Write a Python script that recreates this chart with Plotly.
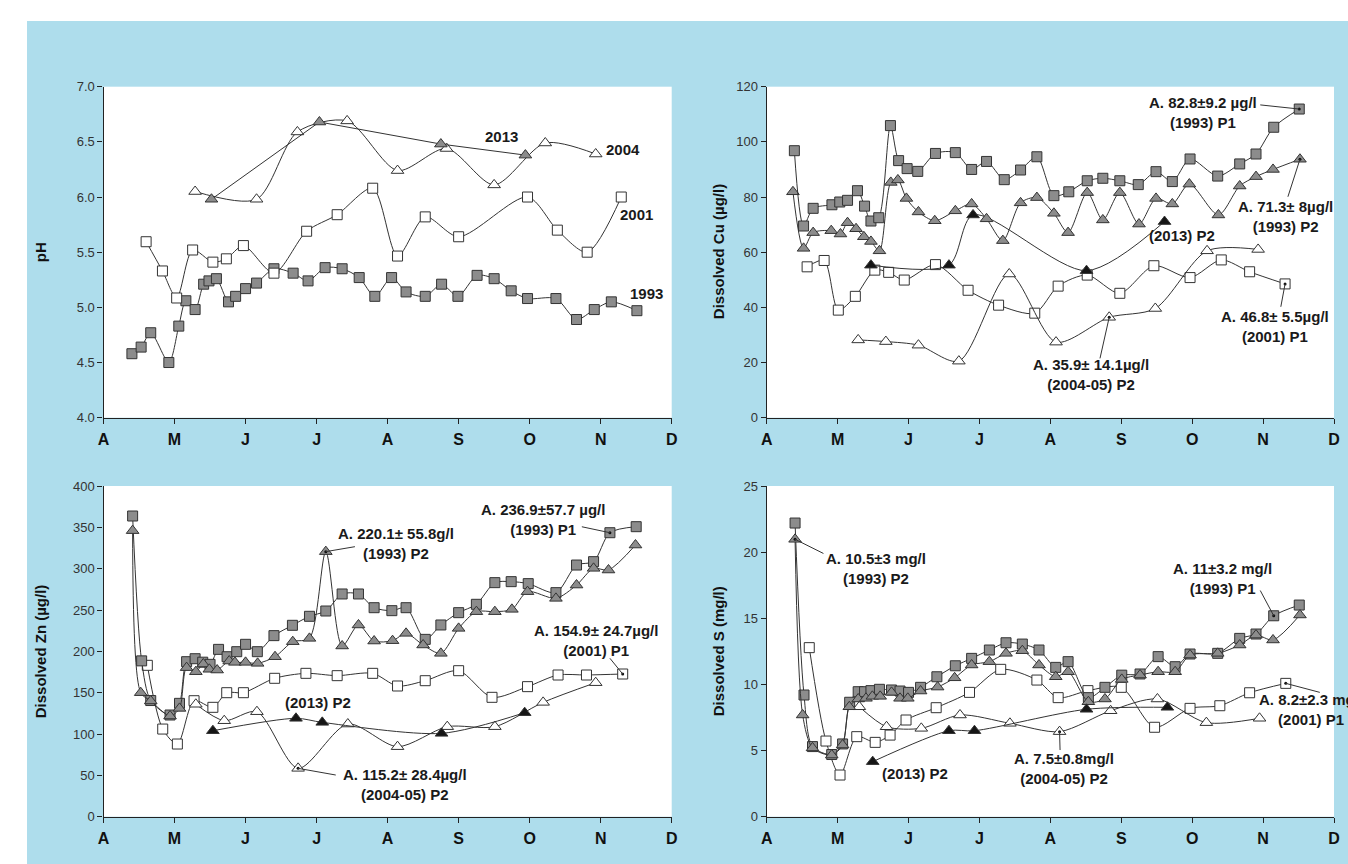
import plotly.graph_objects as go

# ---------------- data (x in months from 1 April: A=0 ... D=8) ----------------
month_labels = ["A", "M", "J", "J", "A", "S", "O", "N", "D"]

# pH
ph93_x = [0.40,0.53,0.665,0.92,1.06,1.16,1.29,1.41,1.485,1.59,1.76,1.86,2.0,2.155,2.40,2.67,2.88,3.12,3.36,3.60,3.82,4.056,4.26,4.53,4.76,4.99,5.26,5.50,5.74,5.97,6.37,6.66,6.91,7.15,7.51]
ph93_y = [4.58,4.64,4.77,4.50,4.83,5.06,4.98,5.21,5.24,5.26,5.05,5.10,5.17,5.22,5.35,5.31,5.24,5.36,5.35,5.27,5.10,5.27,5.14,5.10,5.21,5.10,5.29,5.26,5.15,5.08,5.08,4.89,4.98,5.05,4.97]
ph01_x = [0.60,0.83,1.03,1.255,1.54,1.73,1.97,2.40,2.86,3.29,3.79,4.14,4.53,5.0,5.97,6.39,6.81,7.29]
ph01_y = [5.595,5.33,5.085,5.52,5.41,5.44,5.56,5.31,5.69,5.84,6.08,5.465,5.82,5.64,6.0,5.70,5.50,6.00]
ph04_x = [1.29,2.155,2.73,3.43,4.14,4.83,5.50,6.22,6.93]
ph04_y = [6.05,5.98,6.59,6.69,6.24,6.44,6.11,6.49,6.39]
ph13_x = [1.52,3.04,4.75,5.94]
ph13_y = [5.98,6.68,6.48,6.38]

# Dissolved Cu (ug/l)
cu93a_x = [0.39,0.52,0.655,0.92,1.03,1.14,1.28,1.38,1.47,1.58,1.745,1.86,1.98,2.13,2.38,2.66,2.89,3.10,3.35,3.58,3.81,4.05,4.26,4.52,4.74,4.98,5.24,5.49,5.72,5.97,6.36,6.67,6.90,7.15,7.51]
cu93a_y = [96.8,69.5,75.9,77.2,78.2,78.8,82.3,76.7,71.3,72.5,105.9,93.2,90.3,89.3,95.8,96.1,90.0,92.9,86.3,89.8,94.6,80.5,81.9,85.9,86.8,85.9,84.5,89.2,85.6,93.8,87.6,92.0,95.6,105.3,111.9]
cu93b_x = [0.37,0.52,0.655,0.91,1.04,1.14,1.26,1.37,1.47,1.59,1.75,1.85,1.97,2.14,2.37,2.66,2.89,3.10,3.33,3.58,3.81,4.05,4.25,4.52,4.74,4.98,5.25,5.49,5.72,5.96,6.37,6.67,6.90,7.14,7.52]
cu93b_y = [81.9,61.4,67.1,67.8,66.6,70.7,68.5,65.6,63.9,60.5,85.3,86.2,79.5,74.6,71.4,75.0,77.5,72.1,64.2,77.9,79.8,74.1,67.1,81.6,71.7,81.6,70.2,79.5,77.5,84.7,73.5,84.0,87.4,90.0,93.7]
cu01_x = [0.57,0.81,1.01,1.25,1.525,1.72,1.94,2.38,2.84,3.27,3.78,4.11,4.52,4.98,5.46,5.97,6.41,6.81,7.31]
cu01_y = [54.7,57.0,39.0,44.0,53.5,52.7,49.9,55.5,46.2,40.8,37.9,47.7,51.7,45.1,55.1,50.8,57.2,52.9,48.5]
cu04_x = [1.29,1.68,2.14,2.71,3.42,4.08,4.83,5.48,6.21,6.93]
cu04_y = [28.2,27.6,26.3,20.5,52.1,27.4,36.4,39.6,60.5,61.0]
cu13_x = [1.47,2.57,2.91,4.51,5.61]
cu13_y = [55.3,55.3,73.5,53.3,71.1]

# Dissolved Zn (ug/l)
zn93a_x = [0.41,0.537,0.665,0.937,1.07,1.17,1.29,1.397,1.50,1.62,1.74,1.876,2.0,2.166,2.40,2.66,2.90,3.13,3.36,3.59,3.81,4.06,4.26,4.53,4.75,5.0,5.25,5.51,5.74,5.98,6.37,6.66,6.90,7.13,7.50]
zn93a_y = [363.7,188.5,140.5,123,137.1,187.5,191.1,186.9,184.3,202.4,193.5,199.6,208.5,199.6,219,231.5,242.4,248.8,269.4,269.4,252.8,249.2,252.8,214.5,231.9,246.8,256.9,283.1,284.3,281.9,271.0,304.4,308.5,343.5,350.8]
zn93b_x = [0.41,0.524,0.665,0.937,1.07,1.17,1.30,1.405,1.49,1.60,1.77,1.85,2.0,2.17,2.415,2.665,2.90,3.13,3.36,3.59,3.81,4.07,4.26,4.50,4.75,5.0,5.25,5.51,5.75,5.97,6.37,6.66,6.90,7.11,7.49]
zn93b_y = [346,150,140,121.8,131,180.3,175.4,184.7,178.3,177.4,188.3,186.7,186.7,185.5,193.5,211.7,215.7,320.6,206.5,231.9,212.5,212.9,221.8,207.7,197.6,227.8,248.0,248.0,250.8,272.2,264.1,280.2,300.4,298.4,328.6]
zn01_x = [0.617,0.834,1.04,1.275,1.54,1.735,1.97,2.41,2.85,3.29,3.79,4.14,4.53,5.0,5.47,5.97,6.40,6.80,7.31]
zn01_y = [183.1,106,87.9,140.3,132.3,150,150,167.4,173.4,170.6,173.4,158.1,164.5,176.6,144.4,157.3,171.4,171.4,172.6]
zn04_x = [1.30,1.70,2.16,2.74,3.44,4.14,4.84,5.51,6.19,6.93]
zn04_y = [136,116.1,127,58.5,112.1,84.7,108.9,108.9,138.3,162.1]
zn13_x = [1.54,2.71,3.08,4.76,5.93]
zn13_y = [104,119,114.1,100.8,125.8]

# Dissolved S (mg/l)
s93a_x = [0.40,0.526,0.646,0.917,1.07,1.17,1.29,1.38,1.47,1.59,1.76,1.88,2.0,2.17,2.40,2.66,2.89,3.14,3.375,3.605,3.84,4.076,4.25,4.536,4.77,5.007,5.265,5.52,5.76,5.97,6.36,6.67,6.90,7.15,7.51]
s93a_y = [22.2,9.2,5.3,4.7,5.5,8.65,9.45,9.45,9.53,9.63,9.58,9.5,9.4,9.78,10.58,11.41,11.97,12.6,13.15,13.05,12.6,11.29,11.72,9.0,9.78,10.7,10.79,12.1,11.34,12.3,12.35,13.48,13.81,15.19,16.0]
s93b_x = [0.40,0.507,0.646,0.917,1.07,1.165,1.29,1.40,1.49,1.60,1.76,1.88,1.99,2.17,2.41,2.65,2.89,3.14,3.375,3.605,3.84,4.076,4.25,4.536,4.77,5.007,5.265,5.52,5.76,5.97,6.36,6.67,6.90,7.14,7.52]
s93b_y = [20.97,7.69,5.2,4.66,5.42,8.31,8.9,8.95,9.1,9.1,9.4,8.95,8.95,9.5,9.8,10.5,11.47,11.72,12.35,12.55,11.47,10.58,10.96,8.69,8.9,10.38,10.71,10.96,10.96,12.22,12.35,12.98,13.73,13.36,15.25]
s01_x = [0.60,0.836,1.034,1.27,1.53,1.74,1.965,2.39,2.86,3.30,3.81,4.11,4.53,5.0,5.47,5.97,6.39,6.81,7.32]
s01_y = [12.78,5.72,3.15,6.05,5.62,6.17,7.31,8.24,9.40,11.14,10.33,9.0,9.53,9.78,6.76,8.19,8.39,9.37,10.08]
s04_x = [1.306,1.69,2.18,2.726,3.43,4.13,4.85,5.51,6.20,6.95]
s04_y = [8.31,6.80,6.68,7.69,7.06,6.43,8.01,8.90,7.11,7.44]
s13_x = [1.495,2.57,2.93,4.51,5.65]
s13_y = [4.16,6.5,6.5,8.12,8.27]

# ---------------- styling ----------------
FONT = "Liberation Sans, Arial, sans-serif"
BLUE = "#AEDDEC"
LINE = "#333333"
OUT = dict(color="#333333", width=1)
SQ_GRAY = dict(symbol="square", size=10, color="#8c8c8c", line=OUT)
SQ_WHITE = dict(symbol="square", size=10, color="white", line=OUT)
TR_GRAY = dict(symbol="triangle-up", size=11, color="#8c8c8c", line=OUT)
TR_WHITE = dict(symbol="triangle-up", size=11, color="white", line=OUT)
TR_BLACK = dict(symbol="triangle-up", size=11, color="#151515", line=OUT)

fig = go.Figure()


def add(xs, ys, marker, ax, shape="spline"):
    fig.add_trace(go.Scatter(
        x=xs, y=ys, mode="lines+markers", xaxis="x" + ax, yaxis="y" + ax,
        line=dict(color=LINE, width=1, shape=shape, smoothing=0.8),
        marker=marker, showlegend=False, hoverinfo="skip", cliponaxis=False))


# panel 1: pH
add(ph93_x, ph93_y, SQ_GRAY, "")
add(ph01_x, ph01_y, SQ_WHITE, "")
add(ph04_x, ph04_y, TR_WHITE, "")
add(ph13_x, ph13_y, TR_GRAY, "", shape="linear")
# panel 2: Cu
add(cu01_x, cu01_y, SQ_WHITE, "2")
add(cu04_x, cu04_y, TR_WHITE, "2")
add(cu13_x, cu13_y, TR_BLACK, "2")
add(cu93b_x, cu93b_y, TR_GRAY, "2")
add(cu93a_x, cu93a_y, SQ_GRAY, "2")
# panel 3: Zn
add(zn01_x, zn01_y, SQ_WHITE, "3")
add(zn04_x, zn04_y, TR_WHITE, "3")
add(zn13_x, zn13_y, TR_BLACK, "3")
add(zn93a_x, zn93a_y, SQ_GRAY, "3")
add(zn93b_x, zn93b_y, TR_GRAY, "3")
# panel 4: S
add(s01_x, s01_y, SQ_WHITE, "4")
add(s04_x, s04_y, TR_WHITE, "4")
add(s93a_x, s93a_y, SQ_GRAY, "4")
add(s93b_x, s93b_y, TR_GRAY, "4")
add(s13_x, s13_y, TR_BLACK, "4")

# ---------------- axes ----------------
W, H = 1348, 864
XL = [103.5 / W, 671.7 / W]
XR = [766.7 / W, 1334 / W]
YT = [1 - 417.7 / H, 1 - 86.7 / H]
YB = [1 - 816.7 / H, 1 - 486 / H]

xcommon = dict(range=[0, 8], tickmode="array", tickvals=list(range(9)), ticktext=month_labels,
               ticks="outside", ticklen=5, tickcolor="#222", showline=True, linecolor="#222",
               linewidth=1.2, showgrid=False, zeroline=False, fixedrange=True, automargin=False,
               tickfont=dict(family=FONT, size=16, color="#111", weight="bold"),
               ticklabelstandoff=2)
ycommon = dict(ticks="outside", ticklen=5, tickcolor="#222", showline=True, linecolor="#222",
               linewidth=1.2, showgrid=False, zeroline=False, fixedrange=True, automargin=False,
               tickfont=dict(family=FONT, size=13, color="#333"))

layout = dict(
    width=W, height=H, margin=dict(l=0, r=0, t=0, b=0, pad=0, autoexpand=False),
    paper_bgcolor=BLUE, plot_bgcolor="white", showlegend=False,
    font=dict(family=FONT, color="#222"),
    xaxis=dict(domain=XL, anchor="y", **xcommon),
    yaxis=dict(domain=YT, anchor="x", range=[4, 7], dtick=0.5, tickformat=".1f", **ycommon),
    xaxis2=dict(domain=XR, anchor="y2", **xcommon),
    yaxis2=dict(domain=YT, anchor="x2", range=[0, 120], dtick=20, **ycommon),
    xaxis3=dict(domain=XL, anchor="y3", **xcommon),
    yaxis3=dict(domain=YB, anchor="x3", range=[0, 400], dtick=50, **ycommon),
    xaxis4=dict(domain=XR, anchor="y4", **xcommon),
    yaxis4=dict(domain=YB, anchor="x4", range=[0, 25], dtick=5, **ycommon),
)
fig.update_layout(**layout)

# white margins around the blue panel
shapes = [
    dict(type="rect", xref="paper", yref="paper", x0=0, x1=27 / W, y0=0, y1=1,
         fillcolor="white", line=dict(width=0), layer="below"),
    dict(type="rect", xref="paper", yref="paper", x0=0, x1=1, y0=1 - 21 / H, y1=1,
         fillcolor="white", line=dict(width=0), layer="below"),
]

# leader lines: (axis, text-side point, target point from data)
leaders = [
    ("2", (6.96, 113.4), (cu93a_x[-1], cu93a_y[-1])),
    ("2", (7.35, 80.1), (cu93b_x[-1], cu93b_y[-1])),
    ("2", (7.25, 40.2), (cu01_x[-1], cu01_y[-1])),
    ("2", (4.70, 21.5), (cu04_x[6], cu04_y[6])),
    ("3", (3.54, 326.6), (zn93b_x[17], zn93b_y[17])),
    ("3", (6.735, 350.7), (zn93a_x[33], zn93a_y[33])),
    ("3", (7.13, 191.6), (zn01_x[-1], zn01_y[-1])),
    ("3", (3.27, 50.4), (zn04_x[3], zn04_y[3])),
    ("4", (0.80, 19.9), (s93b_x[0], s93b_y[0])),
    ("4", (4.137, 5.04), (s04_x[5], s04_y[5])),
    ("4", (6.96, 17.1), (s93a_x[33], s93a_y[33])),
    ("4", (7.80, 9.40), (s01_x[-1], s01_y[-1])),
]
for ax, (x0, y0), (x1, y1) in leaders:
    shapes.append(dict(type="line", xref="x" + ax, yref="y" + ax, x0=x0, y0=y0, x1=x1, y1=y1,
                       line=dict(color=LINE, width=1)))
    fig.add_trace(go.Scatter(x=[x1], y=[y1], mode="markers", xaxis="x" + ax, yaxis="y" + ax,
                             marker=dict(size=3, color="#111"), showlegend=False, hoverinfo="skip"))
fig.update_layout(shapes=shapes)

# text labels
labels = [
    ("", "2013", 5.61, 6.547), ("", "2004", 7.31, 6.43), ("", "2001", 7.51, 5.84), ("", "1993", 7.64, 5.13),
    ("2", "A. 82.8±9.2 µg/l<br>(1993) P1", 6.154, 110.5),
    ("2", "A. 71.3± 8µg/l<br>(1993) P2", 7.31, 72.9),
    ("2", "(2013) P2", 5.853, 66.2),
    ("2", "A. 46.8± 5.5µg/l<br>(2001) P1", 7.17, 33.0),
    ("2", "A. 35.9± 14.1µg/l<br>(2004-05) P2", 4.574, 15.5),
    ("3", "A. 220.1± 55.8g/l<br>(1993) P2", 4.12, 330.7),
    ("3", "A. 236.9±57.7 µg/l<br>(1993) P1", 6.19, 359.2),
    ("3", "A. 154.9± 24.7µg/l<br>(2001) P1", 6.94, 213.3),
    ("3", "(2013) P2", 3.02, 138.4),
    ("3", "A. 115.2± 28.4µg/l<br>(2004-05) P2", 4.25, 39.5),
    ("4", "A. 10.5±3 mg/l<br>(1993) P2", 1.54, 18.78),
    ("4", "(2013) P2", 2.09, 3.23),
    ("4", "A. 7.5±0.8mg/l<br>(2004-05) P2", 4.19, 3.62),
    ("4", "A. 11±3.2 mg/l<br>(1993) P1", 6.43, 17.97),
    ("4", "A. 8.2±2.3 mg/l<br>(2001) P1", 7.68, 8.07),
]
annots = []
for ax, txt, x, y in labels:
    annots.append(dict(xref="x" + ax, yref="y" + ax, x=x, y=y, text=txt, showarrow=False,
                       xanchor="center", yanchor="middle", align="center",
                       font=dict(family=FONT, size=15, color="#1a1a1a", weight="bold")))

titles = [
    ("pH", 40, 252.2), ("Dissolved Cu (µg/l)", 718, 252.2),
    ("Dissolved Zn (µg/l)", 40, 651.3), ("Dissolved S (mg/l)", 718, 651.3),
]
for txt, px, py in titles:
    annots.append(dict(xref="paper", yref="paper", x=px / W, y=1 - py / H, text=txt, showarrow=False,
                       textangle=-90, xanchor="center", yanchor="middle",
                       font=dict(family=FONT, size=15, color="#111", weight="bold")))
fig.update_layout(annotations=annots)

fig.write_html("out.html", config={"displayModeBar": False},
               post_script="document.body.style.margin='0px';")
